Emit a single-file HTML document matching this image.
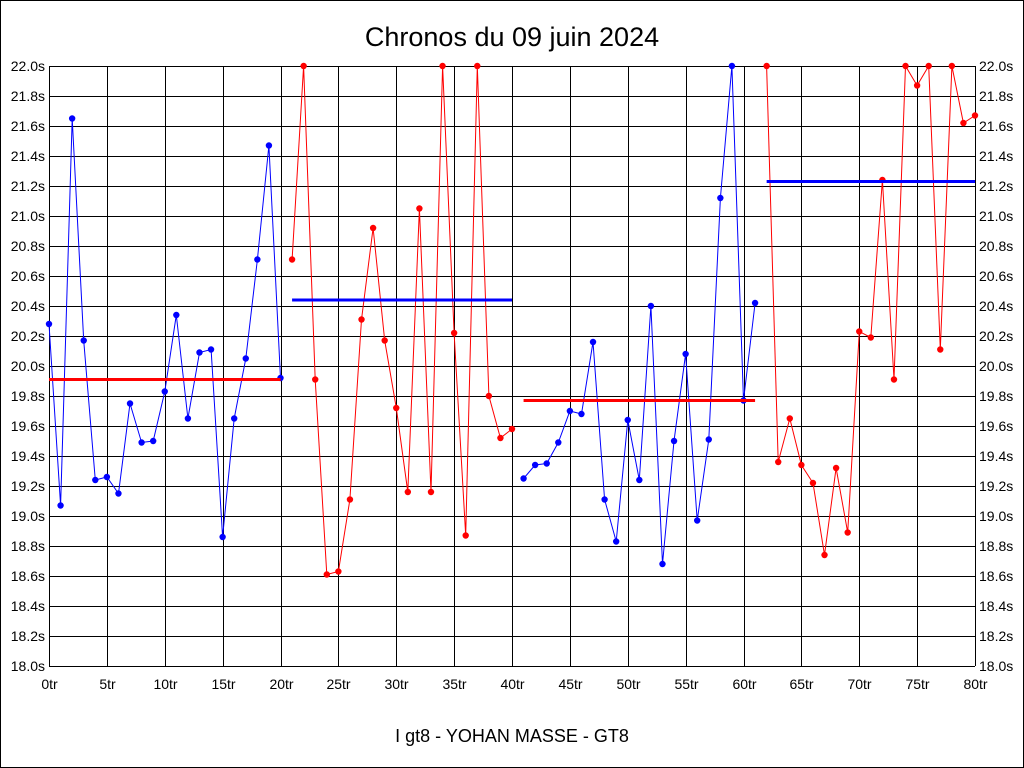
<!DOCTYPE html>
<html><head><meta charset="utf-8"><style>
html,body{margin:0;padding:0;background:#fff}
svg{display:block}
text{font-family:"Liberation Sans",sans-serif}
</style></head><body>
<svg id="s" width="1024" height="768" xmlns="http://www.w3.org/2000/svg"></svg>
<script>
const s=document.getElementById('s');
const L=49,R=975,T=66,B=666;
const X=i=>L+i*(R-L)/80, Y=v=>T+(22-v)*150;
let h='<rect x="0.5" y="0.5" width="1023" height="767" fill="#fff" stroke="#000"/>';
h+='<text x="512" y="46" font-size="27" text-anchor="middle">Chronos du 09 juin 2024</text>';
for(let k=0;k<=20;k++){const y=T+k*30;const v=(22-k*0.2).toFixed(1)+'s';
h+=`<line x1="${L}" x2="${R}" y1="${y+0.5}" y2="${y+0.5}" stroke="#000" stroke-width="1" shape-rendering="crispEdges"/>`;
h+=`<text x="${L-4}" y="${y+5}" font-size="14" text-anchor="end">${v}</text>`;
h+=`<text x="${R+4}" y="${y+5}" font-size="14">${v}</text>`;}
for(let k=0;k<=16;k++){const x=Math.round(L+k*(R-L)/16)+0.5;
h+=`<line x1="${x}" x2="${x}" y1="${T}" y2="${B}" stroke="#000" stroke-width="1" shape-rendering="crispEdges"/>`;
h+=`<text x="${x}" y="${B+23}" font-size="14" text-anchor="middle">${k*5}tr</text>`;}
h+='<text x="512" y="742" font-size="18" text-anchor="middle">I gt8 - YOHAN MASSE - GT8</text>';
const segs=[
 [0,'#0000ff',[20.28,19.07,21.65,20.17,19.24,19.26,19.15,19.75,19.49,19.50,19.83,20.34,19.65,20.09,20.11,18.86,19.65,20.05,20.71,21.47,19.92],'#ff0000',19.91],
 [21,'#ff0000',[20.71,22.0,19.91,18.61,18.63,19.11,20.31,20.92,20.17,19.72,19.16,21.05,19.16,22.0,20.22,18.87,22.0,19.80,19.52,19.58],'#0000ff',20.44],
 [41,'#0000ff',[19.25,19.34,19.35,19.49,19.70,19.68,20.16,19.11,18.83,19.64,19.24,20.40,18.68,19.50,20.08,18.97,19.51,21.12,22.0,19.77,20.42],'#ff0000',19.77],
 [62,'#ff0000',[22.0,19.36,19.65,19.34,19.22,18.74,19.32,18.89,20.23,20.19,21.24,19.91,22.0,21.87,22.0,20.11,22.0,21.62,21.67],'#0000ff',21.23]];
for(const [st,c,d,ac,av] of segs){
 const pts=d.map((v,i)=>X(st+i).toFixed(1)+','+Y(v).toFixed(1)).join(' ');
 h+=`<polyline points="${pts}" fill="none" stroke="${c}" stroke-width="1"/>`;
 d.forEach((v,i)=>h+=`<circle cx="${X(st+i)}" cy="${Y(v)}" r="3.2" fill="${c}"/>`);
 h+=`<line x1="${X(st)}" x2="${X(st+d.length-1)}" y1="${Y(av)}" y2="${Y(av)}" stroke="${ac}" stroke-width="3"/>`;
}
s.innerHTML=h;
</script>
</body></html>
